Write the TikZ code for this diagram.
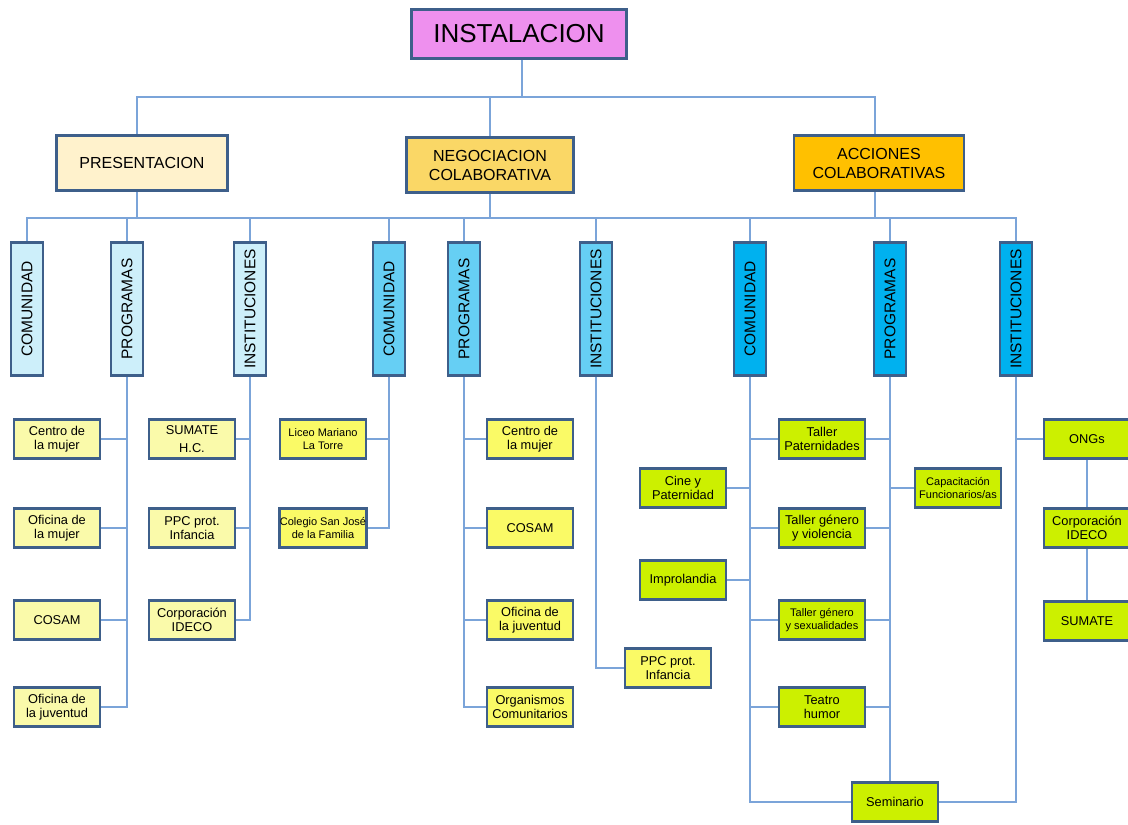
\documentclass[tikz,border=0pt]{standalone}
\usepackage{fontspec}
\setmainfont{Liberation Sans}
\usepackage{graphicx}

\definecolor{edge}{HTML}{3E5F8A}
\definecolor{wire}{HTML}{7BA4D9}
\definecolor{instfill}{HTML}{EE90EE}
\definecolor{presfill}{HTML}{FFF2CC}
\definecolor{negfill}{HTML}{FAD766}
\definecolor{accfill}{HTML}{FFC000}
\definecolor{colA}{HTML}{CDEFFA}
\definecolor{colB}{HTML}{66CFF4}
\definecolor{colC}{HTML}{00B1EF}
\definecolor{leafA}{HTML}{FAFAAA}
\definecolor{leafB}{HTML}{FAFA66}
\definecolor{leafC}{HTML}{CCF000}

\tikzset{
  box/.style={draw=edge, line width=2.9pt, inner sep=0pt, align=center, text=black},
  headbox/.style={box, minimum height=55.5pt, font=\fontsize{16}{19}\selectfont},
  colbox/.style={box, minimum width=32pt, minimum height=133pt, font=\fontsize{15.5}{18}\selectfont},
  leaf/.style={box, minimum width=86pt, minimum height=39pt, font=\fontsize{12.8}{14.5}\selectfont},
  small/.style={font=\fontsize{11}{13}\selectfont},
  link/.style={draw=wire, line width=1.2pt}
}

\begin{document}
\begin{tikzpicture}[x=1pt,y=-1pt]
    \useasboundingbox (0,0) rectangle (1128,825);

    \node[box, fill=instfill, minimum width=215pt, minimum height=49pt, font=\fontsize{26}{28}\selectfont] (inst) at (519,34) {INSTALACION};
    \node[headbox, fill=presfill, minimum width=171pt] (pres) at (142,163) {PRESENTACION};
    \node[headbox, fill=negfill, minimum width=167pt] (neg) at (490,165) {NEGOCIACION\\COLABORATIVA};
    \node[headbox, fill=accfill, minimum width=170pt] (acc) at (879,163) {ACCIONES\\COLABORATIVAS};

    \node[colbox, fill=colA] (com1) at (27,309) {\rotatebox{90}{COMUNIDAD}};
    \node[colbox, fill=colA] (prog1) at (127,309) {\rotatebox{90}{PROGRAMAS}};
    \node[colbox, fill=colA] (ins1) at (250,309) {\rotatebox{90}{INSTITUCIONES}};
    \node[colbox, fill=colB] (com2) at (389,309) {\rotatebox{90}{COMUNIDAD}};
    \node[colbox, fill=colB] (prog2) at (464,309) {\rotatebox{90}{PROGRAMAS}};
    \node[colbox, fill=colB] (ins2) at (596,309) {\rotatebox{90}{INSTITUCIONES}};
    \node[colbox, fill=colC] (com3) at (750,309) {\rotatebox{90}{COMUNIDAD}};
    \node[colbox, fill=colC] (prog3) at (890,309) {\rotatebox{90}{PROGRAMAS}};
    \node[colbox, fill=colC] (ins3) at (1016,309) {\rotatebox{90}{INSTITUCIONES}};

    \node[leaf, fill=leafA] (a1) at (57,439) {Centro de\\la mujer};
    \node[leaf, fill=leafA] (a2) at (57,528) {Oficina de\\la mujer};
    \node[leaf, fill=leafA] (a3) at (57,620) {COSAM};
    \node[leaf, fill=leafA] (a4) at (57,707) {Oficina de\\la juventud};
    \node[leaf, fill=leafA] (b1) at (192,439) {SUMATE\\[3pt]H.C.};
    \node[leaf, fill=leafA] (b2) at (192,528) {PPC prot.\\Infancia};
    \node[leaf, fill=leafA] (b3) at (192,620) {Corporación\\IDECO};

    \node[leaf, small, fill=leafB] (c1) at (323,439) {Liceo Mariano\\La Torre};
    \node[leaf, small, fill=leafB] (c2) at (323,528) {Colegio San José\\de la Familia};
    \node[leaf, fill=leafB] (d1) at (530,439) {Centro de\\la mujer};
    \node[leaf, fill=leafB] (d2) at (530,528) {COSAM};
    \node[leaf, fill=leafB] (d3) at (530,620) {Oficina de\\la juventud};
    \node[leaf, fill=leafB] (d4) at (530,707) {Organismos\\Comunitarios};
    \node[leaf, fill=leafB] (e1) at (668,668) {PPC prot.\\Infancia};

    \node[leaf, fill=leafC] (f1) at (822,439) {Taller\\Paternidades};
    \node[leaf, fill=leafC] (f2) at (822,528) {Taller género\\y violencia};
    \node[leaf, small, fill=leafC] (f3) at (822,620) {Taller género\\y sexualidades};
    \node[leaf, fill=leafC] (f4) at (822,707) {Teatro\\humor};
    \node[leaf, fill=leafC] (h1) at (683,488) {Cine y\\Paternidad};
    \node[leaf, fill=leafC] (h2) at (683,580) {Improlandia};
    \node[leaf, small, fill=leafC] (k1) at (958,488) {Capacitación\\Funcionarios/as};
    \node[leaf, fill=leafC] (sem) at (895,802) {Seminario};
    \node[leaf, fill=leafC] (m1) at (1087,439) {ONGs};
    \node[leaf, fill=leafC] (m2) at (1087,528) {Corporación\\IDECO};
    \node[leaf, fill=leafC] (m3) at (1087,621) {SUMATE};

    \coordinate (top) at (0,97);
    \coordinate (mid) at (0,218);
    \draw[link] ([xshift=3pt]inst.south) -- ([xshift=3pt]inst.south |- top);
    \draw[link] ([xshift=-5pt]pres.north) |- ([xshift=-4pt]acc.north |- top) -- ([xshift=-4pt]acc.north);
    \draw[link] (neg.north) -- (neg.north |- top);
    \draw[link] ([xshift=-5pt]pres.south) -- ([xshift=-5pt]pres.south |- mid);
    \draw[link] (neg.south) -- (neg.south |- mid);
    \draw[link] ([xshift=-4pt]acc.south) -- ([xshift=-4pt]acc.south |- mid);
    \draw[link] (com1.north) |- (mid -| ins3.north) -- (ins3.north);
    \foreach \c in {prog1,ins1,com2,prog2,ins2,com3,prog3}
        \draw[link] (\c.north) -- (\c.north |- mid);

    \draw[link] (prog1.south) |- (a4.east);
    \foreach \l in {a1,a2,a3}
        \draw[link] (\l.east) -- (\l.east -| prog1.south);
    \draw[link] (ins1.south) |- (b3.east);
    \foreach \l in {b1,b2}
        \draw[link] (\l.east) -- (\l.east -| ins1.south);

    \draw[link] (com2.south) |- (c2.east);
    \draw[link] (c1.east) -- (c1.east -| com2.south);
    \draw[link] (prog2.south) |- (d4.west);
    \foreach \l in {d1,d2,d3}
        \draw[link] (\l.west) -- (\l.west -| prog2.south);
    \draw[link] (ins2.south) |- (e1.west);

    \draw[link] (com3.south) |- (sem.west);
    \foreach \l in {f1,f2,f3,f4}
        \draw[link] (\l.west) -- (\l.west -| com3.south);
    \foreach \l in {h1,h2}
        \draw[link] (\l.east) -- (\l.east -| com3.south);
    \draw[link] (prog3.south) -- (prog3.south |- sem.north);
    \foreach \l in {f1,f2,f3,f4}
        \draw[link] (\l.east) -- (\l.east -| prog3.south);
    \draw[link] (k1.west) -- (k1.west -| prog3.south);
    \draw[link] (ins3.south) |- (sem.east);
    \draw[link] (m1.west) -- (m1.west -| ins3.south);
    \draw[link] (m1.south) -- (m2.north);
    \draw[link] (m2.south) -- (m3.north);
\end{tikzpicture}
\end{document}
